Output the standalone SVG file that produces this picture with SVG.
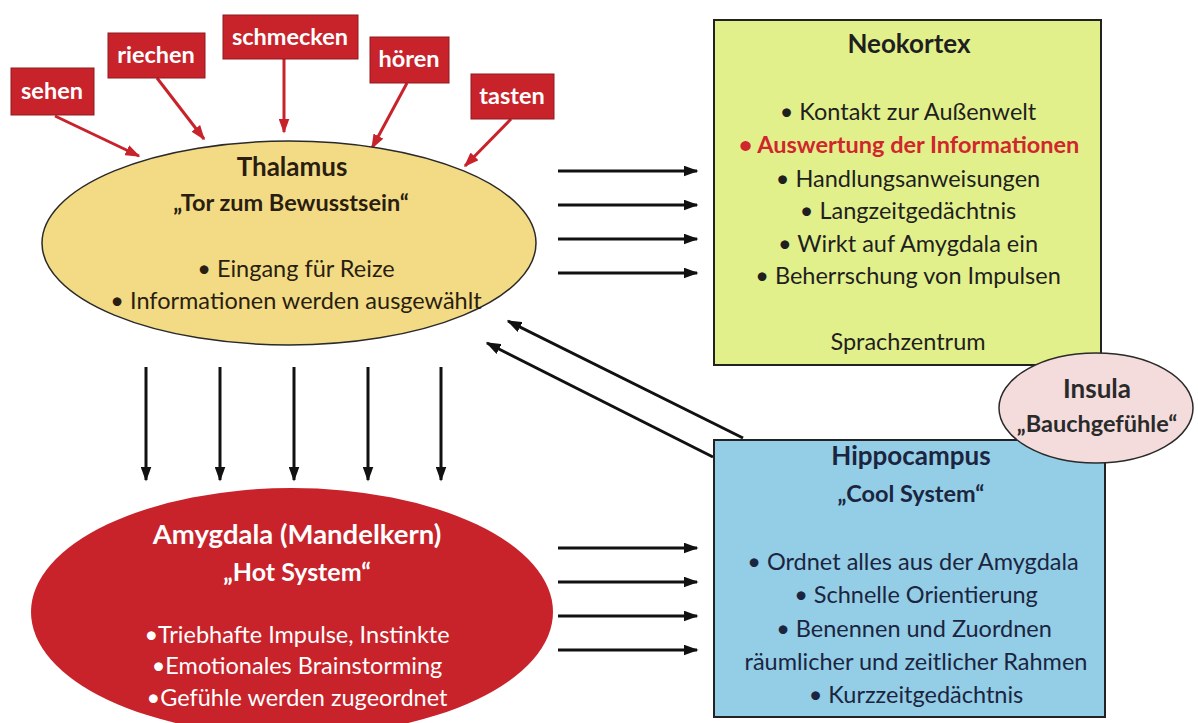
<svg xmlns="http://www.w3.org/2000/svg" width="1198" height="723" viewBox="0 0 1198 723">
  <defs>
    <marker id="arrBlack" viewBox="0 0 10 10" refX="9" refY="5" markerWidth="15" markerHeight="11" markerUnits="userSpaceOnUse" orient="auto" preserveAspectRatio="none">
      <path d="M0,0 L10,5 L0,10 z" fill="#111"/>
    </marker>
    <marker id="arrRed" viewBox="0 0 10 10" refX="9" refY="5" markerWidth="15" markerHeight="11" markerUnits="userSpaceOnUse" orient="auto" preserveAspectRatio="none">
      <path d="M0,0 L10,5 L0,10 z" fill="#c8232b"/>
    </marker>
    <style>
      text { font-family: Lato, "Open Sans", "Liberation Sans", sans-serif; text-anchor: middle; }
      .title { font-size: 26px; font-weight: bold; }
      .sub { font-size: 23.5px; font-weight: bold; }
      .body { font-size: 23.5px; }
      .big { font-size: 27.5px; }
      .bigsub { font-size: 25px; }
      .hl { font-weight: bold; fill: #d0262d; }
      .sense rect { fill: #c8232b; stroke: #8e1a1f; stroke-width: 1; }
      .sense text { fill: #fff; font-size: 23.5px; font-weight: bold; }
      .blk { stroke: #111; stroke-width: 3; fill: none; marker-end: url(#arrBlack); }
      .red { stroke: #c8232b; stroke-width: 3; fill: none; marker-end: url(#arrRed); }
    </style>
  </defs>

  <rect width="1198" height="723" fill="#fff"/>

  <!-- connectors -->
  <g id="connectors">
    <!-- senses into thalamus -->
    <line class="red" x1="55" y1="116" x2="139" y2="156"/>
    <line class="red" x1="157" y1="78" x2="204" y2="139"/>
    <line class="red" x1="284" y1="59" x2="284" y2="132"/>
    <line class="red" x1="407" y1="83" x2="372" y2="148"/>
    <line class="red" x1="511" y1="119" x2="465" y2="166"/>
    <!-- thalamus to neokortex -->
    <line class="blk" x1="558" y1="171" x2="697" y2="171"/>
    <line class="blk" x1="558" y1="205" x2="697" y2="205"/>
    <line class="blk" x1="558" y1="239" x2="697" y2="239"/>
    <line class="blk" x1="558" y1="273" x2="697" y2="273"/>
    <!-- thalamus to amygdala -->
    <line class="blk" x1="146" y1="367" x2="146" y2="480"/>
    <line class="blk" x1="220" y1="367" x2="220" y2="480"/>
    <line class="blk" x1="294" y1="367" x2="294" y2="480"/>
    <line class="blk" x1="368" y1="367" x2="368" y2="480"/>
    <line class="blk" x1="441" y1="367" x2="441" y2="480"/>
    <!-- amygdala to hippocampus -->
    <line class="blk" x1="558" y1="548" x2="697" y2="548"/>
    <line class="blk" x1="558" y1="582" x2="697" y2="582"/>
    <line class="blk" x1="558" y1="616" x2="697" y2="616"/>
    <line class="blk" x1="558" y1="650" x2="697" y2="650"/>
    <!-- hippocampus back to thalamus -->
    <line class="blk" x1="743" y1="438" x2="508" y2="321"/>
    <line class="blk" x1="713" y1="457" x2="487" y2="343"/>
  </g>

  <!-- sense labels -->
  <g id="sehen" class="sense"><rect x="11" y="68" width="83" height="47"/><text x="52" y="99">sehen</text></g>
  <g id="riechen" class="sense"><rect x="108" y="33" width="97" height="45"/><text x="156" y="63">riechen</text></g>
  <g id="schmecken" class="sense"><rect x="223" y="15" width="135" height="44"/><text x="290" y="45">schmecken</text></g>
  <g id="hoeren" class="sense"><rect x="370" y="37" width="79" height="46"/><text x="409" y="67">hören</text></g>
  <g id="tasten" class="sense"><rect x="471" y="74" width="83" height="45"/><text x="512" y="104">tasten</text></g>

  <!-- Thalamus -->
  <g id="thalamus">
    <ellipse cx="289" cy="243" rx="247" ry="102" fill="#f3db85" stroke="#2a2a2a" stroke-width="1.5"/>
    <g fill="#2a1e10">
      <text class="title" x="292" y="176">Thalamus</text>
      <text class="sub" x="291" y="211">„Tor zum Bewusstsein“</text>
      <text class="body" x="296" y="277">• Eingang für Reize</text>
      <text class="body" x="296" y="309">• Informationen werden ausgewählt</text>
    </g>
  </g>

  <!-- Neokortex -->
  <g id="neokortex">
    <rect x="714" y="20" width="387" height="345" fill="#e2f08b" stroke="#222" stroke-width="2"/>
    <g fill="#1f1f1f">
      <text class="title" x="909" y="53">Neokortex</text>
      <text class="body" x="908" y="120">• Kontakt zur Außenwelt</text>
      <text class="body hl" x="909" y="153">• Auswertung der Informationen</text>
      <text class="body" x="908" y="187">• Handlungsanweisungen</text>
      <text class="body" x="908" y="219">• Langzeitgedächtnis</text>
      <text class="body" x="908" y="252">• Wirkt auf Amygdala ein</text>
      <text class="body" x="908" y="284">• Beherrschung von Impulsen</text>
      <text class="body" x="908" y="350">Sprachzentrum</text>
    </g>
  </g>

  <!-- Hippocampus -->
  <g id="hippocampus">
    <rect x="714" y="440" width="391" height="277" fill="#93cde6" stroke="#222" stroke-width="2"/>
    <g fill="#1b2540">
      <text class="title" x="911" y="465">Hippocampus</text>
      <text class="sub" x="911" y="502">„Cool System“</text>
      <text class="body" x="913" y="570">• Ordnet alles aus der Amygdala</text>
      <text class="body" x="916" y="603">• Schnelle Orientierung</text>
      <text class="body" x="914" y="637">• Benennen und Zuordnen</text>
      <text class="body" x="916" y="670">räumlicher und zeitlicher Rahmen</text>
      <text class="body" x="916" y="703">• Kurzzeitgedächtnis</text>
    </g>
  </g>

  <!-- Insula -->
  <g id="insula">
    <ellipse cx="1096" cy="408" rx="97" ry="55" fill="#f4dcdc" stroke="#2a2a2a" stroke-width="1.5"/>
    <g fill="#2a2a2a">
      <text class="title" x="1097" y="398">Insula</text>
      <text class="sub" x="1097" y="432">„Bauchgefühle“</text>
    </g>
  </g>

  <!-- Amygdala -->
  <g id="amygdala">
    <ellipse cx="292" cy="612" rx="261" ry="124" fill="#c8232b"/>
    <g fill="#fff">
      <text class="title big" x="297" y="544">Amygdala (Mandelkern)</text>
      <text class="sub bigsub" x="297" y="581">„Hot System“</text>
      <text class="body" x="297" y="643">•Triebhafte Impulse, Instinkte</text>
      <text class="body" x="297" y="674">•Emotionales Brainstorming</text>
      <text class="body" x="297" y="706">•Gefühle werden zugeordnet</text>
    </g>
  </g>
</svg>
